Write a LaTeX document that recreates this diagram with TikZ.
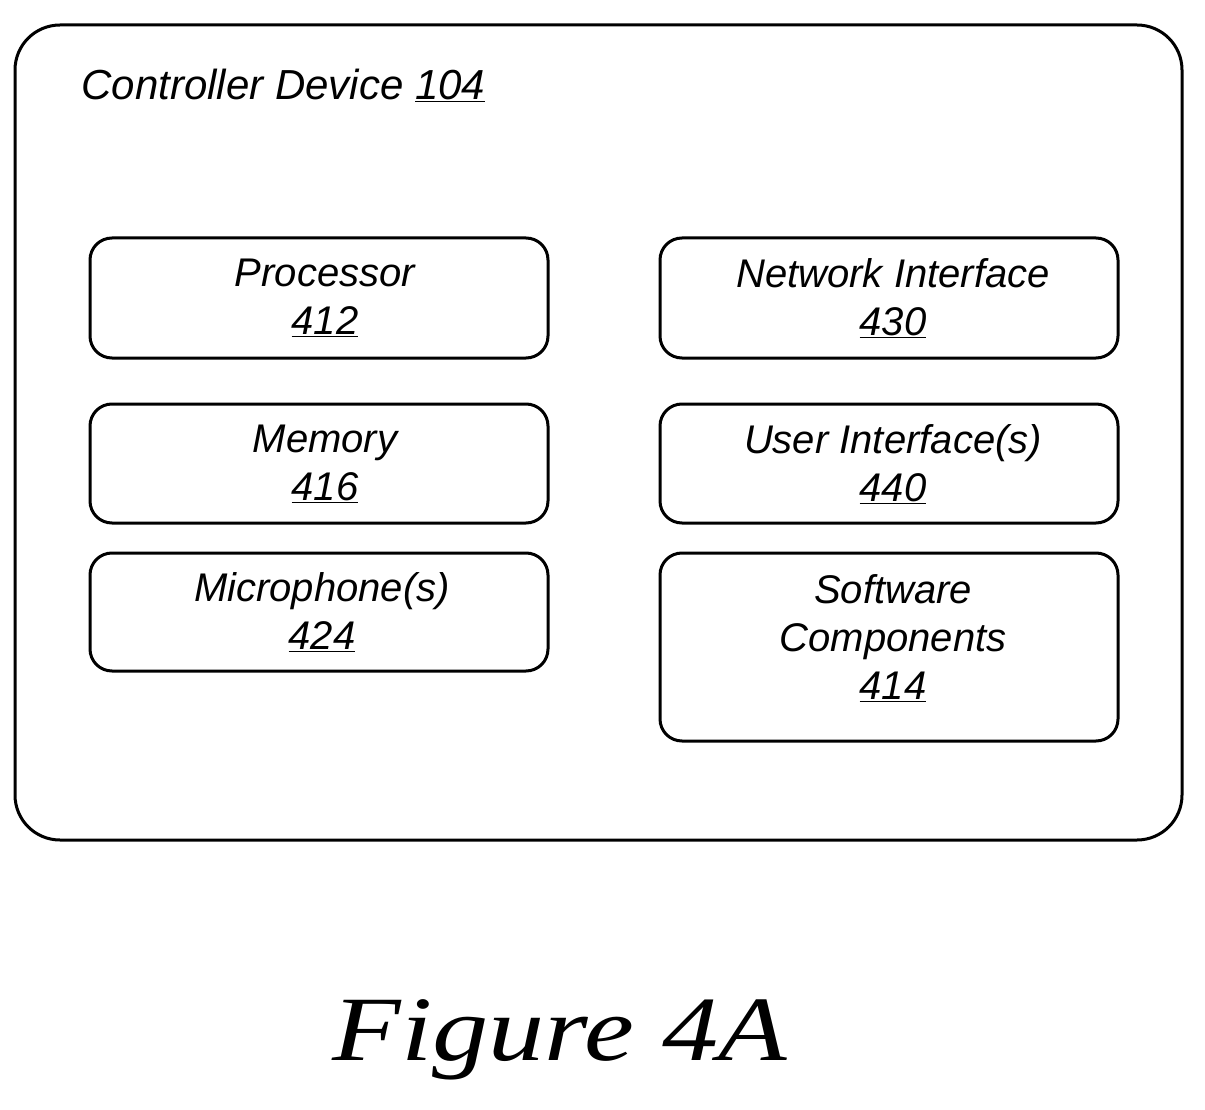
\documentclass[tikz,border=0pt]{standalone}
\usepackage{fontspec}
\setsansfont{Liberation Sans}
\setmainfont{Liberation Serif}
\begin{document}
\begin{tikzpicture}[x=1pt,y=-1pt,
  box/.style={draw,line width=3pt,rounded corners=22pt},
  lbl/.style={align=center,font=\sffamily\itshape\fontsize{40}{48}\selectfont}]
\useasboundingbox (0,0) rectangle (1205,1110);
\draw[line width=3pt,rounded corners=45pt] (15,25) rectangle (1182,840);
\node[anchor=west,font=\sffamily\itshape\fontsize{42}{48}\selectfont] (title) at (78,85) {Controller Device \underline{104}};
\draw[box] (90,238) rectangle (548,358);
\draw[box] (90,404) rectangle (548,523);
\draw[box] (90,553) rectangle (548,671);
\draw[box] (660,238) rectangle (1118,358);
\draw[box] (660,404) rectangle (1118,523);
\draw[box] (660,553) rectangle (1118,741);
\node[lbl] (p) at (325,298) {Processor\\\underline{412}};
\node[lbl] (m) at (325,464) {Memory\\\underline{416}};
\node[lbl] (mic) at (322,612) {Microphone(s)\\\underline{424}};
\node[lbl] (n) at (893,298) {Network Interface\\\underline{430}};
\node[lbl] (u) at (893,464) {User Interface(s)\\\underline{440}};
\node[lbl] (s) at (893,638) {Software\\Components\\\underline{414}};
\node[font=\itshape\fontsize{92}{100}\selectfont] (fig) at (560,1040) {\scalebox{1.22}[1]{Figure 4A}};
\end{tikzpicture}
\end{document}
